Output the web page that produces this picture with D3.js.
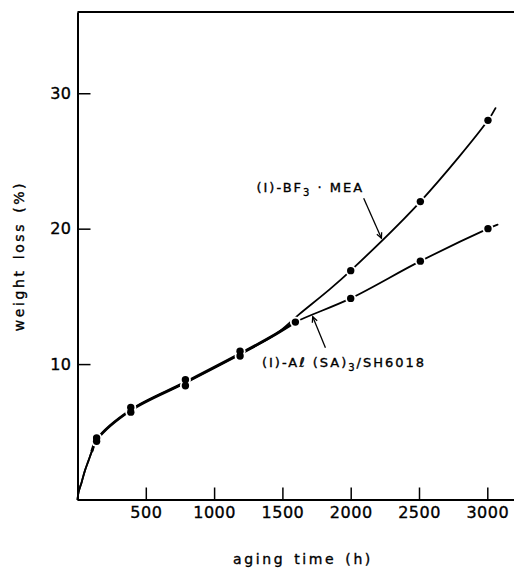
<!DOCTYPE html>
<html>
<head>
<meta charset="utf-8">
<script src="https://cdn.jsdelivr.net/npm/d3@7"></script>
<style>
  body { margin: 0; background: #fff; }
  text { font-family: "DejaVu Sans", sans-serif; fill: #000; stroke: #000; stroke-width: 0.35px; }
</style>
</head>
<body>
<div id="chart"></div>
<script>
// measured points (two specimens per time on the shared part)
const sharedHours = [140, 140, 390, 390, 790, 790, 1190, 1190];
const sharedLoss = [4.3, 4.55, 6.45, 6.8, 8.4, 8.85, 10.6, 10.95];
const bf3Hours = [2000, 2510, 3005];
const bf3Loss = [16.9, 22.0, 28.0];
const alHours = [1595, 2000, 2510, 3005];
const alLoss = [13.1, 14.85, 17.6, 20.0];

// hand drawn curves
const originCurve = [[0, 0], [8, 0.55], [31, 1.3], [55, 2.15], [80, 2.85], [105, 3.55]];
const sharedCurve = [[140, 4.4], [390, 6.6], [790, 8.65], [1190, 10.75], [1450, 12.2]];
const bf3Curve = [[1620, 13.65], [1850, 15.55], [2000, 16.9], [2510, 22.0], [3005, 28.0], [3060, 28.9]];
const alCurve = [[1595, 13.1], [2000, 14.85], [2510, 17.6], [3005, 20.0], [3075, 20.3]];

const xTicks = [500, 1000, 1500, 2000, 2500, 3000];
const yTicks = [10, 20, 30];

// annotation anchors in data units: text start, arrow tail, arrow tip
const notes = [
  { pre: "(I)-BF", sub: "3", post: " · MEA", at: [1310, 22.7], from: [2095, 22.25], to: [2225, 19.3] },
  { pre: "(I)-Aℓ (SA)", sub: "3", post: "/SH6018", at: [1350, 9.8], from: [1815, 11.2], to: [1722, 13.5] }
];

var margin = { top: 12, left: 77.5 },
    width = 3250 * 0.1366,
    height = 487.5;

var svg = d3.select("#chart").append("svg")
    .attr("width", 514)
    .attr("height", 569);

var xScale = d3.scaleLinear()
    .domain([0, 3250])
    .range([margin.left, margin.left + width]);

var yScale = d3.scaleLinear()
    .domain([0, 36])
    .range([margin.top + height, margin.top]);

// axes, ticks pointing inward
var yAxis = svg.append("g")
    .attr("transform", "translate(" + xScale(0) + ",0)")
    .call(d3.axisLeft(yScale).tickValues(yTicks).tickFormat(d3.format("d"))
        .tickSizeInner(-13).tickSizeOuter(0).tickPadding(6));

var xAxis = svg.append("g")
    .attr("transform", "translate(0," + yScale(0) + ")")
    .call(d3.axisBottom(xScale).tickValues(xTicks).tickFormat(d3.format("d"))
        .tickSizeInner(-12).tickSizeOuter(0).tickPadding(7));

[yAxis, xAxis].forEach(function (g) {
    g.select(".domain").attr("stroke", "#000").attr("stroke-width", 2);
    g.selectAll(".tick line").attr("stroke", "#000").attr("stroke-width", 1.5);
    g.selectAll(".tick text")
        .attr("fill", "#000")
        .style("font-size", "16px")
        .style("font-family", "'DejaVu Sans', sans-serif")
        .style("letter-spacing", "0.5px");
});

// top frame line
svg.append("line")
    .attr("x1", xScale(0)).attr("x2", xScale(3250))
    .attr("y1", yScale(36)).attr("y2", yScale(36))
    .attr("stroke", "#000")
    .attr("stroke-width", 2);

// axis titles
svg.append("text")
    .attr("x", 303)
    .attr("y", 564)
    .attr("text-anchor", "middle")
    .style("font-size", "14px")
    .style("letter-spacing", "2.6px")
    .style("word-spacing", "2px")
    .text("aging time (h)");

svg.append("text")
    .attr("transform", "translate(24,256) rotate(-90)")
    .attr("text-anchor", "middle")
    .style("font-size", "14px")
    .style("letter-spacing", "2.6px")
    .style("word-spacing", "2px")
    .text("weight loss (%)");

// curves
var line = d3.line()
    .x(function (d) { return xScale(d[0]); })
    .y(function (d) { return yScale(d[1]); })
    .curve(d3.curveCatmullRom.alpha(0.5));

var bf3Path = originCurve.concat(sharedCurve, bf3Curve);
var alPath = originCurve.concat(sharedCurve, alCurve);

[bf3Path, alPath].forEach(function (c) {
    svg.append("path")
        .attr("fill", "none")
        .attr("stroke", "#000")
        .attr("stroke-width", 1.8)
        .attr("stroke-linecap", "round")
        .attr("d", line(c));
});

// thicker stroke where both curves run together
svg.append("path")
    .attr("fill", "none")
    .attr("stroke", "#000")
    .attr("stroke-width", 3)
    .attr("d", line([originCurve[originCurve.length - 1]].concat(sharedCurve, [alCurve[0]])));

// points: white halo first so the line breaks around each dot
var pts = [];
sharedHours.forEach(function (h, i) { pts.push([h, sharedLoss[i]]); });
bf3Hours.forEach(function (h, i) { pts.push([h, bf3Loss[i]]); });
alHours.forEach(function (h, i) { pts.push([h, alLoss[i]]); });

svg.selectAll("circle.halo")
    .data(pts)
    .enter().append("circle")
    .attr("class", "halo")
    .attr("cx", function (d) { return xScale(d[0]); })
    .attr("cy", function (d) { return yScale(d[1]); })
    .attr("r", 5.5)
    .attr("fill", "#fff");

svg.selectAll("circle.dot")
    .data(pts)
    .enter().append("circle")
    .attr("class", "dot")
    .attr("cx", function (d) { return xScale(d[0]); })
    .attr("cy", function (d) { return yScale(d[1]); })
    .attr("r", 3.7)
    .attr("fill", "#000");

// labels with arrows
notes.forEach(function (n) {
    var t = svg.append("text")
        .attr("x", xScale(n.at[0]))
        .attr("y", yScale(n.at[1]))
        .style("font-size", "13px")
        .style("letter-spacing", "2px");
    t.append("tspan").text(n.pre);
    t.append("tspan").attr("dy", 4).style("font-size", "10px").text(n.sub);
    t.append("tspan").attr("dy", -4).text(n.post);

    var x1 = xScale(n.from[0]), y1 = yScale(n.from[1]),
        x2 = xScale(n.to[0]), y2 = yScale(n.to[1]);
    svg.append("line")
        .attr("x1", x1).attr("y1", y1)
        .attr("x2", x2).attr("y2", y2)
        .attr("stroke", "#000")
        .attr("stroke-width", 1.3);
    var a = Math.atan2(y2 - y1, x2 - x1), s = 6;
    svg.append("path")
        .attr("fill", "none")
        .attr("stroke", "#000")
        .attr("stroke-width", 1.3)
        .attr("d", "M" + (x2 - s * Math.cos(a - 0.45)) + "," + (y2 - s * Math.sin(a - 0.45)) +
            "L" + x2 + "," + y2 +
            "L" + (x2 - s * Math.cos(a + 0.45)) + "," + (y2 - s * Math.sin(a + 0.45)));
});
</script>
</body>
</html>
